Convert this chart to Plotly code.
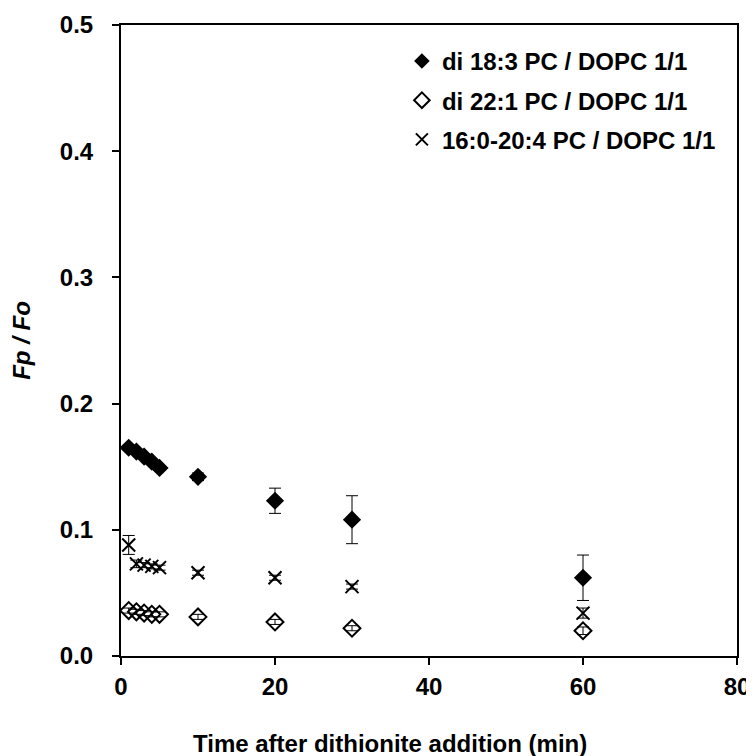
import plotly.graph_objects as go

time_min = [1, 2, 3, 4, 5, 10, 20, 30, 60]

s183_name = "di 18:3 PC / DOPC 1/1"
s183 = [0.165, 0.162, 0.158, 0.154, 0.149, 0.142, 0.123, 0.108, 0.062]
s183_err = [0.002, 0.002, 0.002, 0.002, 0.002, 0.003, 0.010, 0.019, 0.018]

s221_name = "di 22:1 PC / DOPC 1/1"
s221 = [0.036, 0.035, 0.034, 0.033, 0.033, 0.031, 0.027, 0.022, 0.020]
s221_err = [0.002, 0.002, 0.002, 0.002, 0.002, 0.002, 0.002, 0.002, 0.003]

s204_name = "16:0-20:4 PC / DOPC 1/1"
s204 = [0.088, 0.073, 0.072, 0.071, 0.070, 0.066, 0.062, 0.055, 0.034]
s204_err = [0.0075, 0.003, 0.002, 0.002, 0.002, 0.002, 0.002, 0.002, 0.004]

x_ticks = [0, 20, 40, 60, 80]
y_ticks = [0.0, 0.1, 0.2, 0.3, 0.4, 0.5]

x_title = "Time after dithionite addition (min)"
y_title = "<i>Fp / Fo</i>"

FONT = "Liberation Sans, Arial, sans-serif"
FS = 24

def err(e):
    return dict(type="data", array=e, visible=True, color="black", thickness=1, width=6)

fig = go.Figure()
fig.add_trace(go.Scatter(
    x=time_min, y=s183, mode="markers", name=s183_name, legendgroup="a",
    marker=dict(symbol="diamond", size=14, color="black", line=dict(width=0)),
    error_y=err(s183_err)))
fig.add_trace(go.Scatter(
    x=time_min, y=s221, mode="markers", name=s221_name, legendgroup="b",
    marker=dict(symbol="diamond-open", size=13, color="black", line=dict(width=2, color="black")),
    error_y=err(s221_err)))
fig.add_trace(go.Scatter(
    x=time_min, y=s204, mode="markers", name=s204_name, legendgroup="c",
    marker=dict(symbol="x-thin-open", size=13, color="black", line=dict(width=2, color="black")),
    error_y=err(s204_err)))

fig.update_layout(
    width=746, height=748,
    margin=dict(l=113, r=17, t=17, b=100, autoexpand=False),
    paper_bgcolor="white", plot_bgcolor="white",
    font=dict(family=FONT, size=FS, color="black"),
    showlegend=True,
    legend=dict(x=0.456, y=0.978, xanchor="left", yanchor="top",
                bgcolor="rgba(0,0,0,0)", borderwidth=0,
                traceorder="grouped", tracegroupgap=5,
                font=dict(family=FONT, size=FS, color="black", weight="bold"),
                itemsizing="constant"),
    xaxis=dict(range=[0, 80], tickvals=x_ticks, ticktext=[str(v) for v in x_ticks],
               automargin=False,
               showgrid=False, zeroline=False, showline=True, linecolor="black",
               linewidth=2, mirror=True, ticks="outside", ticklen=7, tickwidth=2,
               tickcolor="black", ticklabelstandoff=1,
               tickfont=dict(family=FONT, size=FS, color="black", weight="bold")),
    yaxis=dict(range=[0, 0.5], tickvals=y_ticks, ticktext=[f"{v:.1f}" for v in y_ticks],
               automargin=False,
               showgrid=False, zeroline=False, showline=True, linecolor="black",
               linewidth=2, mirror=True, ticks="outside", ticklen=7, tickwidth=2,
               tickcolor="black", ticklabelstandoff=14,
               tickfont=dict(family=FONT, size=FS, color="black", weight="bold"),
               title=dict(text=y_title, standoff=29,
                          font=dict(family=FONT, size=FS, color="black", weight="bold"))),
    annotations=[dict(text=x_title, xref="paper", yref="paper", x=0.437, y=-0.1387,
                      xanchor="center", yanchor="middle", showarrow=False,
                      font=dict(family=FONT, size=FS, color="black", weight="bold"))],
)

fig.write_html("out.html")
